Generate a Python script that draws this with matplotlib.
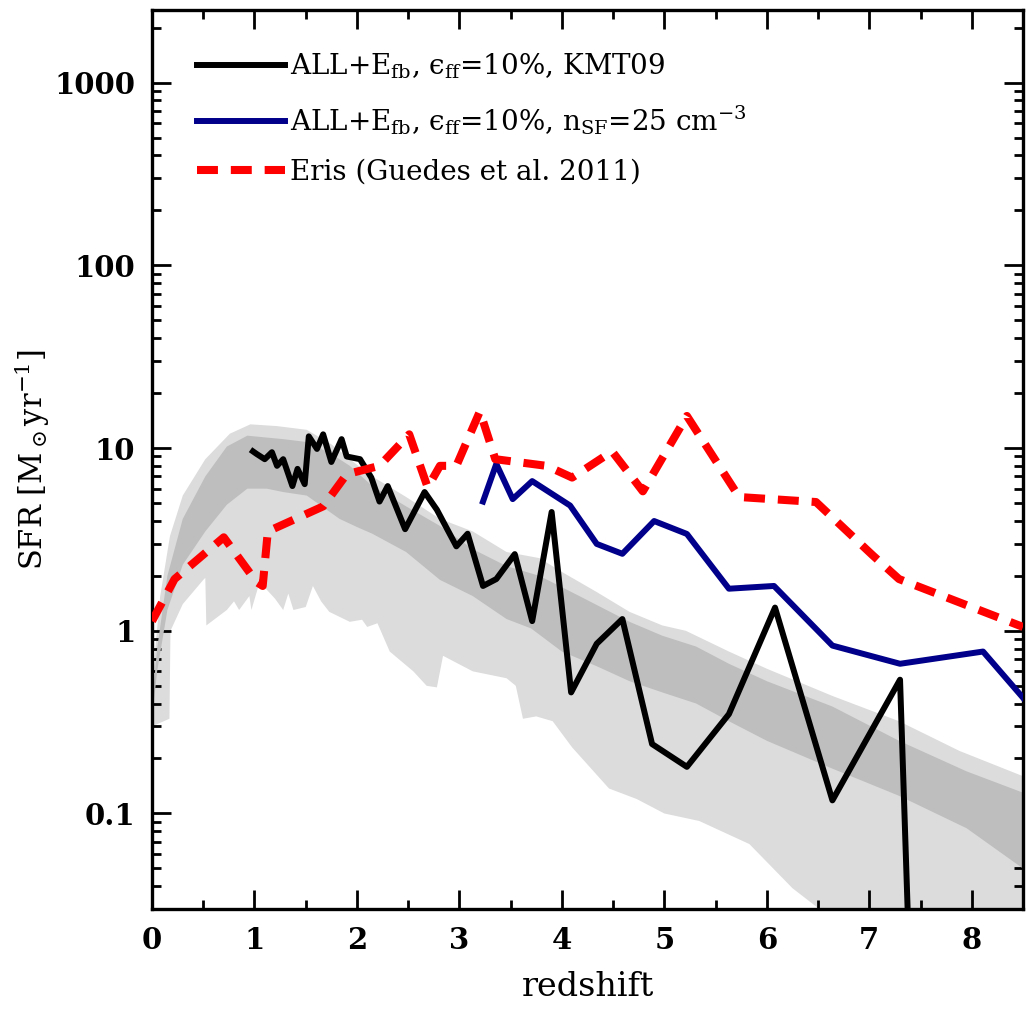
import numpy as np
import matplotlib
matplotlib.use("Agg")
import matplotlib.pyplot as plt
from matplotlib.ticker import FixedLocator, FuncFormatter, LogLocator, NullFormatter

plt.rcParams['font.family'] = ['DejaVu Serif']
plt.rcParams['mathtext.fontset'] = 'dejavuserif'

# KMT09 run (black)
z_kmt = [0.985, 1.02, 1.10, 1.17, 1.22, 1.28, 1.37, 1.42, 1.49, 1.53, 1.61, 1.67, 1.75,
         1.85, 1.90, 2.03, 2.14, 2.22, 2.30, 2.47, 2.66, 2.78, 2.97, 3.08, 3.23, 3.36,
         3.54, 3.71, 3.90, 4.09, 4.34, 4.59, 4.88, 5.22, 5.63, 6.08, 6.64, 7.30, 7.42]
sfr_kmt = [9.6, 9.3, 8.7, 9.5, 8.0, 8.7, 6.2, 7.7, 6.35, 11.6, 9.9, 11.9, 8.4,
           11.2, 9.0, 8.7, 6.9, 5.1, 6.2, 3.6, 5.75, 4.6, 2.9, 3.4, 1.76, 1.92,
           2.63, 1.13, 4.47, 0.46, 0.85, 1.16, 0.24, 0.18, 0.35, 1.34, 0.118, 0.54, 0.005]

# n_SF = 25 cm^-3 run (blue)
z_nsf = [3.23, 3.36, 3.52, 3.71, 4.08, 4.34, 4.59, 4.90, 5.22, 5.63, 6.07, 6.64, 7.30, 8.11, 8.50]
sfr_nsf = [5.1, 8.2, 5.26, 6.6, 4.85, 2.99, 2.64, 3.99, 3.39, 1.70, 1.76, 0.83, 0.66, 0.77, 0.43]

# Eris (red dashed)
z_eris = [0.0, 0.22, 0.70, 1.02, 1.08, 1.13, 1.67, 1.90, 2.22, 2.51, 2.69, 2.81, 2.97,
          3.20, 3.35, 3.85, 4.10, 4.49, 4.79, 5.22, 5.73, 6.48, 7.03, 7.29, 8.50]
sfr_eris = [1.13, 1.92, 3.25, 1.85, 1.76, 3.5, 4.8, 7.2, 8.0, 11.9, 6.1, 8.0, 8.0,
            15.9, 8.7, 8.0, 6.9, 9.6, 5.8, 15.0, 5.4, 5.07, 2.6, 1.92, 1.05]

# outer (light) band
z_lu = [0.0, 0.04, 0.08, 0.175, 0.30, 0.52, 0.76, 0.96, 1.22, 1.51, 1.75, 1.93, 2.15, 2.48,
        2.81, 3.13, 3.46, 3.78, 4.00, 4.34, 4.66, 4.98, 5.21, 5.63, 6.00, 6.64, 7.29, 7.88, 8.50]
sfr_lu = [0.45, 0.9, 1.55, 3.3, 5.5, 8.7, 12.0, 13.5, 13.2, 12.6, 10.5, 8.7, 7.0, 5.4,
          4.1, 3.5, 2.7, 2.5, 2.1, 1.63, 1.27, 1.07, 1.0, 0.77, 0.62, 0.44, 0.32, 0.22, 0.16]
z_ll = [0.0, 0.17, 0.18, 0.30, 0.50, 0.52, 0.53, 0.73, 0.80, 0.85, 0.95, 0.97, 1.05, 1.20,
        1.28, 1.33, 1.38, 1.50, 1.57, 1.65, 1.73, 1.93, 2.05, 2.10, 2.20, 2.32, 2.55, 2.68,
        2.78, 2.84, 3.13, 3.46, 3.55, 3.62, 3.75, 3.91, 4.10, 4.46, 4.73, 5.00, 5.34, 5.83,
        6.25, 6.48, 6.70, 8.50]
sfr_ll = [0.3, 0.33, 1.0, 1.4, 1.9, 1.95, 1.07, 1.3, 1.45, 1.3, 1.55, 1.3, 1.85, 1.5,
          1.3, 1.6, 1.3, 1.35, 1.76, 1.45, 1.27, 1.12, 1.15, 1.05, 1.1, 0.77, 0.6, 0.5,
          0.49, 0.73, 0.6, 0.55, 0.5, 0.33, 0.34, 0.32, 0.23, 0.137, 0.12, 0.1, 0.091, 0.068,
          0.039, 0.031, 0.02, 0.01]

# inner (dark) band
z_du = [0.0, 0.05, 0.15, 0.30, 0.52, 0.73, 0.93, 1.28, 1.51, 1.75, 1.93, 2.15, 2.48, 2.81,
        3.13, 3.46, 3.78, 4.17, 4.66, 4.98, 5.31, 5.63, 6.00, 6.64, 7.29, 7.95, 8.50]
sfr_du = [0.4, 0.8, 2.0, 4.1, 7.0, 10.2, 11.7, 11.2, 10.8, 9.3, 8.0, 6.2, 4.8, 3.75,
          2.8, 2.26, 2.0, 1.55, 1.12, 0.94, 0.82, 0.66, 0.53, 0.385, 0.25, 0.17, 0.13]
z_dl = [0.0, 0.05, 0.15, 0.30, 0.52, 0.73, 0.93, 1.12, 1.28, 1.51, 1.83, 2.00, 2.15, 2.48,
        2.81, 3.13, 3.46, 3.70, 4.00, 4.34, 4.66, 4.98, 5.31, 5.63, 6.00, 6.64, 7.29, 7.95, 8.50]
sfr_dl = [0.33, 0.6, 1.3, 2.3, 3.5, 4.9, 6.0, 6.0, 5.75, 5.5, 4.1, 3.7, 3.4, 2.7,
          1.9, 1.55, 1.16, 1.03, 0.77, 0.64, 0.53, 0.46, 0.40, 0.32, 0.25, 0.176, 0.125, 0.083, 0.05]

labels = ['ALL+E$_{\\rm fb}$, \u03f5$_{\\rm ff}$=10%, KMT09',
          'ALL+E$_{\\rm fb}$, \u03f5$_{\\rm ff}$=10%, n$_{\\rm SF}$=25 cm$^{-3}$',
          'Eris (Guedes et al. 2011)']

fig = plt.figure(figsize=(10.3, 10.1), dpi=100)
ax = fig.add_axes([0.1476, 0.1, 0.8456, 0.89])

ax.fill(np.concatenate([z_lu, z_ll[::-1]]), np.concatenate([sfr_lu, sfr_ll[::-1]]),
        color='#dcdcdc', lw=0, zorder=1)
ax.fill(np.concatenate([z_du, z_dl[::-1]]), np.concatenate([sfr_du, sfr_dl[::-1]]),
        color='#bebebe', lw=0, zorder=2)

ax.plot(z_kmt, sfr_kmt, color='black', lw=4.3, zorder=4, label=labels[0])
ax.plot(z_nsf, sfr_nsf, color='#00008b', lw=4.3, zorder=4, label=labels[1])
ax.plot(z_eris, sfr_eris, color='red', lw=5.8, dashes=(2.6, 1.6), dash_capstyle='butt',
        zorder=5, label=labels[2])

ax.set_yscale('log')
ax.set_xlim(0, 8.5)
ax.set_ylim(0.03, 2500)

ax.xaxis.set_major_locator(FixedLocator(range(0, 9)))
ax.xaxis.set_minor_locator(FixedLocator(np.arange(0.5, 8.6, 1.0)))
ax.yaxis.set_major_locator(FixedLocator([0.1, 1, 10, 100, 1000]))
ax.yaxis.set_minor_locator(LogLocator(base=10, subs=np.arange(2, 10), numticks=20))
ax.yaxis.set_minor_formatter(NullFormatter())
ax.yaxis.set_major_formatter(FuncFormatter(lambda v, p: '%g' % v))

ax.tick_params(which='both', direction='in', top=True, right=True, width=2)
ax.tick_params(which='major', length=14, labelsize=21, pad=12)
ax.tick_params(which='minor', length=6.5)
for lab in ax.get_xticklabels() + ax.get_yticklabels():
    lab.set_fontweight('bold')
for s in ax.spines.values():
    s.set_linewidth(2.4)

ax.set_xlabel('redshift', fontsize=24, labelpad=12)
ax.set_ylabel(r'SFR [M$_\odot$yr$^{-1}$]', fontsize=22, labelpad=2)

ax.legend(loc='upper left', bbox_to_anchor=(0.0517, 0.954), frameon=False, fontsize=20,
          borderpad=0, borderaxespad=0, handlelength=3.17, handletextpad=0.18,
          labelspacing=0.8)

fig.savefig('out.png', dpi=100)
